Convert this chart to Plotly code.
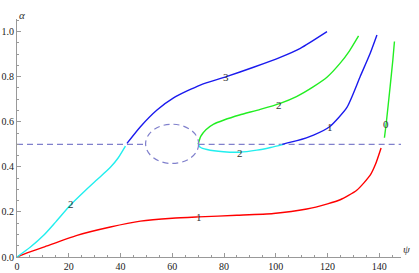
import plotly.graph_objects as go

# ---- data ----
red1_psi = [0, 1.5, 3.9, 10.3, 23.2, 36.1, 47.7, 60, 70.2, 85, 99.1, 112, 120, 124.9, 131.3, 136.5, 138.5, 140.7]
red1_alpha = [0, 0.007, 0.018, 0.044, 0.096, 0.133, 0.159, 0.172, 0.178, 0.185, 0.193, 0.213, 0.236, 0.254, 0.296, 0.363, 0.41, 0.484]

green0_psi = [142.0, 142.66, 144.2, 145.25, 145.87]
green0_alpha = [0.529, 0.59, 0.756, 0.874, 0.956]

cyan2a_psi = [0, 5.2, 10.3, 15, 20.9, 26, 31, 36.1, 39, 41.9]
cyan2a_alpha = [0, 0.044, 0.096, 0.156, 0.234, 0.291, 0.344, 0.398, 0.438, 0.492]

blue3_psi = [42.5, 47.7, 54.1, 60.5, 70.8, 80.9, 91.4, 101.7, 109.5, 119.8]
blue3_alpha = [0.504, 0.578, 0.652, 0.706, 0.763, 0.80, 0.842, 0.886, 0.926, 1.0]

green2_psi = [70, 71, 73, 76, 80, 86, 94, 101.7, 108, 114.6, 120, 124.9, 128.5, 132]
green2_alpha = [0.5, 0.535, 0.565, 0.59, 0.608, 0.63, 0.655, 0.682, 0.712, 0.756, 0.80, 0.86, 0.915, 0.981]

cyan2b_psi = [70, 70.8, 73.4, 79.8, 86, 92.7, 98, 103]
cyan2b_alpha = [0.5, 0.487, 0.477, 0.467, 0.465, 0.474, 0.486, 0.5]

blue1_psi = [102.5, 108.2, 114.6, 120.8, 127.5, 132.6, 136.5, 139.1]
blue1_alpha = [0.5, 0.516, 0.541, 0.578, 0.664, 0.8, 0.904, 0.985]

threshold = 0.5
dash_left = [0, 49.7]
dash_right = [70.2, 149]
ellipse_psi = [49.7, 70.2]
ellipse_alpha = [0.415, 0.589]

labels_text = ["1", "0", "2", "3", "2", "2", "1"]
labels_psi = [70.2, 142.7, 20.9, 80.9, 101.1, 86.0, 120.8]
labels_alpha = [0.178, 0.59, 0.237, 0.80, 0.674, 0.462, 0.578]

x_ticks = [0, 20, 40, 60, 80, 100, 120, 140]
y_ticks = [0.0, 0.2, 0.4, 0.6, 0.8, 1.0]

# ---- styling ----
RED = "#ff0000"
GREEN = "#22ee22"
CYAN = "#22eeee"
BLUE = "#1a1aee"
DASH = "#8080cc"
SERIF = "'Liberation Serif', 'Times New Roman', serif"

fig = go.Figure()

def curve(x, y, color):
    fig.add_trace(go.Scatter(x=x, y=y, mode="lines",
                             line=dict(color=color, width=1.4, shape="spline", smoothing=0.6),
                             hoverinfo="skip", showlegend=False))

for xs in (dash_left, dash_right):
    fig.add_trace(go.Scatter(x=xs, y=[threshold, threshold], mode="lines",
                             line=dict(color=DASH, width=1.2, dash="6px,4px"),
                             hoverinfo="skip", showlegend=False))

curve(red1_psi, red1_alpha, RED)
curve(green0_psi, green0_alpha, GREEN)
curve(cyan2a_psi, cyan2a_alpha, CYAN)
curve(blue3_psi, blue3_alpha, BLUE)
curve(green2_psi, green2_alpha, GREEN)
curve(cyan2b_psi, cyan2b_alpha, CYAN)
curve(blue1_psi, blue1_alpha, BLUE)

fig.add_shape(type="circle", xref="x", yref="y",
              x0=ellipse_psi[0], x1=ellipse_psi[1], y0=ellipse_alpha[0], y1=ellipse_alpha[1],
              line=dict(color=DASH, width=1.2, dash="6px,4px"))

for t, px, py in zip(labels_text, labels_psi, labels_alpha):
    fig.add_annotation(x=px, y=py, text=t, showarrow=False,
                       font=dict(family=SERIF, size=11, color="#333333"))

axis_common = dict(showgrid=False, zeroline=False, showline=True, linecolor="#999999",
                   linewidth=1, ticks="inside", ticklen=4, tickcolor="#999999", automargin=False,
                   tickfont=dict(family=SERIF, size=10, color="#222222"))

fig.update_xaxes(range=[0, 148.4], tickvals=x_ticks, ticktext=[str(v) for v in x_ticks],
                 minor=dict(dtick=5, tick0=0, ticks="inside", ticklen=2, tickcolor="#999999"),
                 **axis_common)
fig.update_yaxes(range=[0, 1.056], tickvals=y_ticks, ticktext=[f"{v:.1f}" for v in y_ticks],
                 minor=dict(dtick=0.05, tick0=0, ticks="inside", ticklen=2, tickcolor="#999999"),
                 **axis_common)

fig.add_annotation(xref="paper", yref="paper", x=0, y=1, yshift=12, text="<i>α</i>",
                   showarrow=False, font=dict(family=SERIF, size=11, color="#333333"))
fig.add_annotation(xref="paper", yref="paper", x=1, y=0, xshift=11, text="<i>ψ</i>",
                   showarrow=False, font=dict(family=SERIF, size=11, color="#333333"))

fig.update_layout(width=419, height=273, margin=dict(l=16.5, r=18, t=19, b=16.3, autoexpand=False),
                  plot_bgcolor="white", paper_bgcolor="white",
                  font=dict(family=SERIF))

fig.write_html("out.html", config={"displayModeBar": False},
               post_script="document.body.style.margin='0px';")
